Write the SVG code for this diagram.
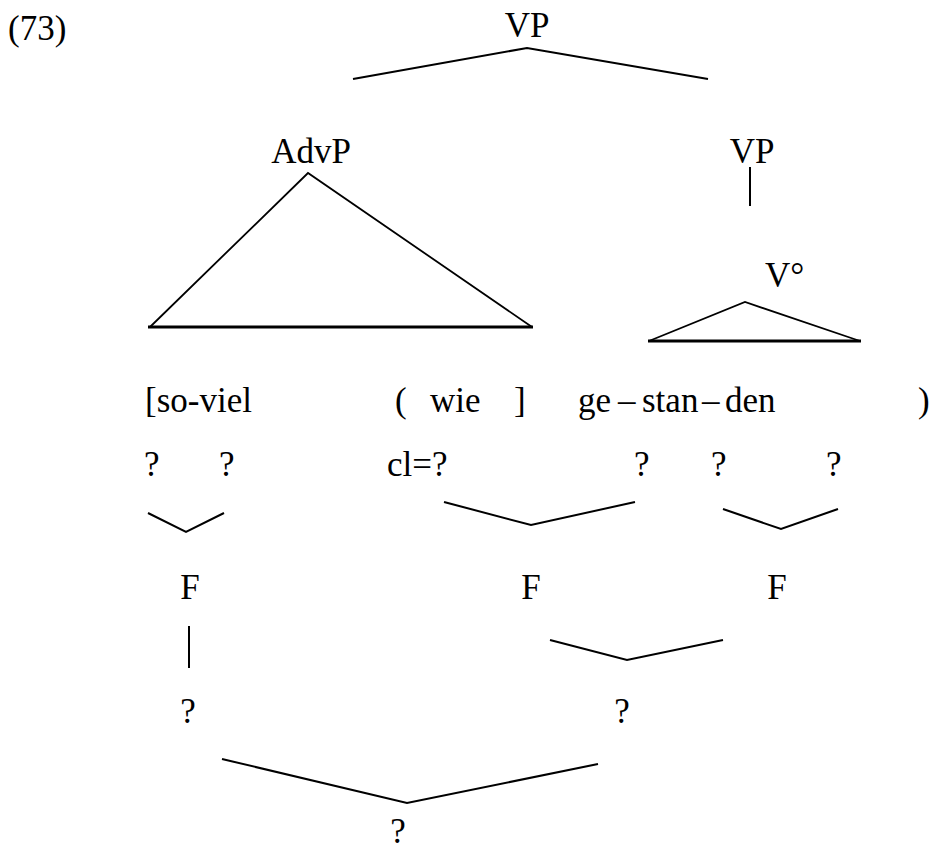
<svg xmlns="http://www.w3.org/2000/svg" width="938" height="852" viewBox="0 0 938 852">
<style>
text{font-family:"Liberation Serif","Tinos","Times New Roman","DejaVu Serif","Noto Serif",serif;font-size:35px;fill:#000}
.m{text-anchor:middle}
.ln{fill:none;stroke:#000;stroke-width:2;stroke-linejoin:miter}
.base{stroke:#000;stroke-width:3.2}
.tri{fill:none;stroke:#000;stroke-width:1.8}
</style>
<rect width="938" height="852" fill="#fff"/>
<g id="label-73"><text x="8" y="40">(73)</text></g>
<g id="node-vp-top"><text class="m" x="527" y="37">VP</text></g>
<g id="node-advp"><text class="m" x="311" y="163">AdvP</text></g>
<g id="node-vp-right"><text class="m" x="752" y="163">VP</text></g>
<g id="node-v0"><text x="765" y="287">V°</text></g>
<g id="row-words">
<text x="145" y="412">[so-viel</text>
<text x="395" y="412">(</text>
<text x="430" y="412">wie</text>
<text x="514" y="412">]</text>
<text x="578" y="412">ge</text>
<text x="618" y="412">–</text>
<text x="642" y="412">stan</text>
<text x="702" y="412">–</text>
<text x="725" y="412">den</text>
<text x="918" y="412">)</text>
</g>
<g id="row-syll">
<text x="144" y="476">?</text>
<text x="219" y="476">?</text>
<text x="387" y="476">cl=?</text>
<text x="634" y="476">?</text>
<text x="711" y="476">?</text>
<text x="826" y="476">?</text>
</g>
<g id="node-f1"><text class="m" x="190" y="599">F</text></g>
<g id="node-f2"><text class="m" x="531" y="599">F</text></g>
<g id="node-f3"><text class="m" x="777" y="599">F</text></g>
<g id="node-q1"><text class="m" x="188" y="723">?</text></g>
<g id="node-q2"><text class="m" x="622" y="723">?</text></g>
<g id="node-q3"><text class="m" x="398" y="843">?</text></g>
<g id="connectors">
<polyline class="ln" points="353,79 527,48 708,79"/>
<polyline class="tri" points="150,327 308,173 532,327"/>
<line class="base" x1="148" y1="327" x2="533" y2="327"/>
<line class="ln" x1="750" y1="167" x2="750" y2="206"/>
<polyline class="tri" points="649,341 745,302 860,341"/>
<line class="base" x1="648" y1="341" x2="861" y2="341"/>
<polyline class="ln" points="148,513 186,532 224,513"/>
<polyline class="ln" points="444,502 531,525 635,502"/>
<polyline class="ln" points="723,509 781,529 838,509"/>
<line class="ln" x1="189" y1="626" x2="189" y2="668"/>
<polyline class="ln" points="550,640 627,660 723,640"/>
<polyline class="ln" points="222,759 407,803 598,764"/>
</g>
</svg>
